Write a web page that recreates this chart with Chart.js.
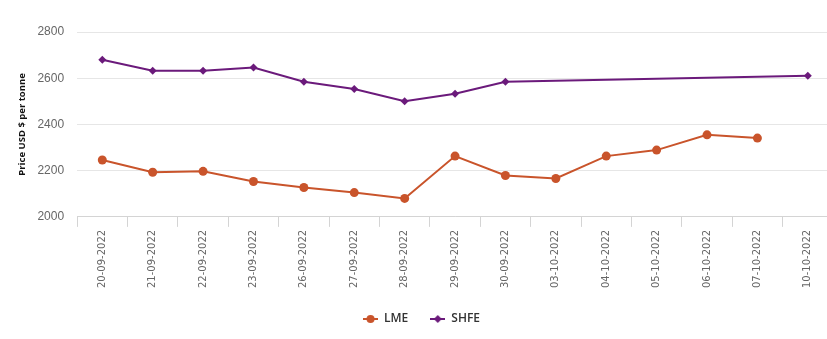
<!DOCTYPE html>
<html>
<head>
<meta charset="utf-8">
<script src="https://cdn.jsdelivr.net/npm/chart.js@4"></script>
<style>
  html, body { margin: 0; padding: 0; background: #fff; overflow: hidden; }
  #wrap { width: 827px; height: 339px; overflow: hidden; }
</style>
</head>
<body>
<div id="wrap"><canvas id="priceChart" width="840" height="339"></canvas></div>
<script>
// Dates (x axis)
const dates = ['20-09-2022', '21-09-2022', '22-09-2022', '23-09-2022', '26-09-2022', '27-09-2022',
    '28-09-2022', '29-09-2022', '30-09-2022', '03-10-2022', '04-10-2022', '05-10-2022',
    '06-10-2022', '07-10-2022', '10-10-2022'];

// LME prices
const lmeValues = [2246, 2193, 2197, 2153, 2127, 2105, 2080, 2263, 2179, 2166, 2263, 2289, 2355, 2341, null];

// SHFE prices (missing days joined by line)
const shfeValues = [2680, 2632, 2632, 2646, 2585, 2553, 2500, 2533, 2585, null, null, null, null, null, 2611];

const yTicks = [2000, 2200, 2400, 2600, 2800];

const lmeColor = '#c9542b';
const shfeColor = '#6b1a7b';

// small legend icon: line with the marker on it
function legendIcon(color, style) {
    const c = document.createElement('canvas');
    c.width = 15;
    c.height = 10;
    const g = c.getContext('2d');
    g.strokeStyle = color;
    g.fillStyle = color;
    g.lineWidth = 2;
    g.beginPath();
    g.moveTo(0, 5);
    g.lineTo(15, 5);
    g.stroke();
    g.beginPath();
    if (style === 'circle') {
        g.arc(7.5, 5, 4, 0, Math.PI * 2);
    } else {
        g.moveTo(7.5, 1); g.lineTo(11.5, 5); g.lineTo(7.5, 9); g.lineTo(3.5, 5);
        g.closePath();
    }
    g.fill();
    return c;
}

// canvas is a bit wider than the page: the last category runs past the right edge like the original
const ctx = document.getElementById('priceChart').getContext('2d');
const chart = new Chart(ctx, {
    type: 'line',
    data: {
        labels: dates,
        datasets: [{
            label: 'LME',
            data: lmeValues,
            borderColor: lmeColor,
            backgroundColor: lmeColor,
            borderWidth: 2,
            pointStyle: 'circle',
            pointRadius: 4.5,
            pointBorderWidth: 0,
            pointHoverRadius: 4.5,
            tension: 0
        }, {
            label: 'SHFE',
            data: shfeValues,
            borderColor: shfeColor,
            backgroundColor: shfeColor,
            borderWidth: 2,
            pointStyle: 'rectRot',
            pointRadius: 4,
            pointBorderWidth: 0,
            pointHoverRadius: 4,
            spanGaps: true,
            tension: 0
        }]
    },
    options: {
        responsive: false,
        animation: false,
        layout: { padding: { left: 10, right: 7, top: 32, bottom: 4 } },
        plugins: {
            legend: {
                display: true,
                position: 'bottom',
                labels: {
                    usePointStyle: true,
                    pointStyleWidth: 15,
                    padding: 22,
                    color: '#333',
                    font: { family: 'Open Sans', size: 12, weight: '600' },
                    generateLabels: (ch) => ch.data.datasets.map((ds, i) => ({
                        text: ds.label,
                        fillStyle: ds.borderColor,
                        strokeStyle: ds.borderColor,
                        fontColor: '#333',
                        pointStyle: legendIcon(ds.borderColor, i === 0 ? 'circle' : 'diamond'),
                        hidden: false,
                        datasetIndex: i
                    }))
                }
            },
            tooltip: { enabled: false }
        },
        scales: {
            x: {
                offset: true,
                grid: {
                    offset: true,
                    drawOnChartArea: false,
                    color: '#d4d4d4',
                    tickLength: 10
                },
                border: { color: '#d4d4d4' },
                ticks: {
                    autoSkip: false,
                    maxRotation: 90,
                    minRotation: 90,
                    color: '#666',
                    padding: 3,
                    font: { family: 'DejaVu Sans', size: 10 }
                }
            },
            y: {
                min: 2000,
                max: 2800,
                afterBuildTicks: (axis) => { axis.ticks = yTicks.map(v => ({ value: v })); },
                grid: { color: '#e6e6e6', drawTicks: false },
                border: { display: false },
                ticks: {
                    color: '#666',
                    padding: 13,
                    font: { family: 'Liberation Sans', size: 12 },
                    callback: (v) => String(v)
                },
                title: {
                    display: true,
                    text: 'Price USD $ per tonne',
                    color: '#111',
                    padding: { top: 7, bottom: -4 },
                    font: { family: 'Open Sans', size: 9.5, weight: 'bold' }
                }
            }
        }
    }
});
</script>
</body>
</html>
